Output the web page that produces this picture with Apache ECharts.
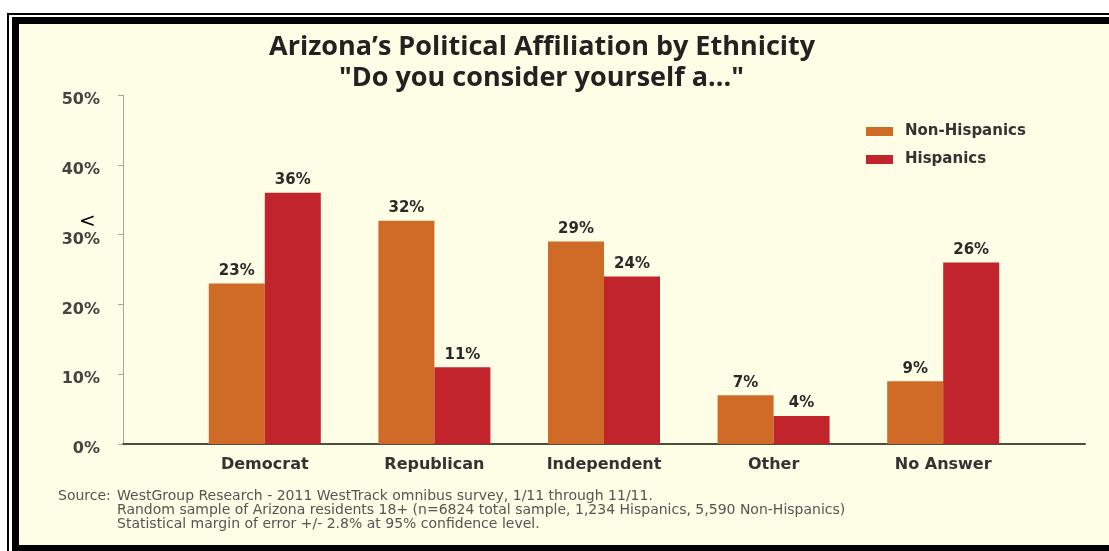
<!DOCTYPE html>
<html>
<head>
<meta charset="utf-8">
<script src="https://cdn.jsdelivr.net/npm/echarts@6/dist/echarts.min.js"></script>
<style>html,body{margin:0;padding:0;background:#fff;}#c{width:1109px;height:551px;}</style>
</head>
<body>
<div id="c"></div>
<script>
const categories = ['Democrat', 'Republican', 'Independent', 'Other', 'No Answer'];
const nonHispanics = [23, 32, 29, 7, 9];
const hispanics = [36, 11, 24, 4, 26];
const seriesNames = ['Non-Hispanics', 'Hispanics'];
const yTickLabels = ['0%', '10%', '20%', '30%', '40%', '50%'];
const titleText = "Arizona\u2019s Political Affiliation by Ethnicity";
const subtitleText = '"Do you consider yourself a..."';
const sourceLabel = 'Source:';
const sourceLines = [
  'WestGroup Research - 2011 WestTrack omnibus survey, 1/11 through 11/11.',
  'Random sample of Arizona residents 18+ (n=6824 total sample, 1,234 Hispanics, 5,590 Non-Hispanics)',
  'Statistical margin of error +/- 2.8% at 95% confidence level.'
];

const chart = echarts.init(document.getElementById('c'), null, {renderer: 'canvas'});
const ORANGE = '#CF6A27';
const RED = '#C2242C';
const labelStyle = {show: true, position: 'top', distance: 5, formatter: '{c}%', fontFamily: 'DejaVu Sans', fontWeight: 'bold', fontSize: 15, color: '#2a2a2a'};

chart.setOption({
  backgroundColor: '#ffffff',
  animation: false,
  title: [
    {text: titleText, left: 264, top: 29, textStyle: {fontFamily: 'Open Sans', fontWeight: 'bold', fontSize: 27, color: '#222'}},
    {text: subtitleText, left: 334, top: 60, textStyle: {fontFamily: 'Open Sans', fontWeight: 'bold', fontSize: 27, color: '#222'}}
  ],
  legend: {
    orient: 'vertical', left: 866, top: 124, padding: 0, itemWidth: 27, itemHeight: 9, itemGap: 13,
    icon: 'rect',
    data: seriesNames,
    textStyle: {fontFamily: 'DejaVu Sans', fontWeight: 'bold', fontSize: 15, color: '#333', padding: [0, 0, 0, 7]}
  },
  grid: [
    {left: 180, right: 81, top: 95, bottom: 107},
    {left: 123, right: 24, top: 95, bottom: 107}
  ],
  xAxis: [
    {type: 'category', gridIndex: 0, data: categories,
     axisLine: {show: false}, axisTick: {show: false},
     axisLabel: {margin: 13, fontFamily: 'DejaVu Sans', fontWeight: 'bold', fontSize: 16, color: '#333'}},
    {type: 'value', gridIndex: 1, min: 0, max: 1,
     axisLine: {show: true, lineStyle: {color: '#4d4d40', width: 2}},
     axisTick: {show: false}, axisLabel: {show: false}, splitLine: {show: false}}
  ],
  yAxis: [
    {type: 'value', gridIndex: 0, min: 0, max: 50, interval: 10, offset: 57,
     axisLine: {show: true, lineStyle: {color: '#a8a898', width: 1}},
     axisTick: {show: true, length: 5, lineStyle: {color: '#a8a898'}},
     splitLine: {show: false},
     axisLabel: {margin: 23, formatter: v => '{t|' + yTickLabels[Math.round(v / 10)] + '}',
       rich: {t: {fontFamily: 'DejaVu Sans', fontWeight: 'bold', fontSize: 16, color: '#444', padding: [10, 0, 0, 0]}}}},
    {type: 'value', gridIndex: 1, show: false, min: 0, max: 1}
  ],
  series: [
    {name: seriesNames[0], type: 'bar', xAxisIndex: 0, yAxisIndex: 0, data: nonHispanics, barWidth: 56, barGap: '0%', itemStyle: {color: ORANGE}, label: labelStyle},
    {name: seriesNames[1], type: 'bar', xAxisIndex: 0, yAxisIndex: 0, data: hispanics, barWidth: 56, barGap: '0%', itemStyle: {color: RED}, label: labelStyle}
  ],
  graphic: [
    {type: 'rect', z: -10, silent: true, shape: {x: 7, y: 13, width: 1110, height: 545}, style: {fill: '#000'}},
    {type: 'rect', z: -10, silent: true, shape: {x: 9, y: 15, width: 1110, height: 545}, style: {fill: '#fff'}},
    {type: 'rect', z: -10, silent: true, shape: {x: 12, y: 17, width: 1110, height: 545}, style: {fill: '#000'}},
    {type: 'rect', z: -10, silent: true, shape: {x: 19, y: 24, width: 1095, height: 521}, style: {fill: '#FEFDE6'}},
    {type: 'text', z: 10, left: 79, top: 212, style: {text: '<', fontFamily: 'DejaVu Sans', fontSize: 20, fill: '#000'}},
    {type: 'text', z: 10, left: 58, top: 489, style: {text: sourceLabel, fontFamily: 'DejaVu Sans', fontSize: 14, fill: '#555'}},
    {type: 'text', z: 10, left: 117, top: 489, style: {text: sourceLines[0], fontFamily: 'DejaVu Sans', fontSize: 14, fill: '#555'}},
    {type: 'text', z: 10, left: 117, top: 503, style: {text: sourceLines[1], fontFamily: 'DejaVu Sans', fontSize: 14, fill: '#555'}},
    {type: 'text', z: 10, left: 117, top: 517, style: {text: sourceLines[2], fontFamily: 'DejaVu Sans', fontSize: 14, fill: '#555'}}
  ]
});
</script>
</body>
</html>
